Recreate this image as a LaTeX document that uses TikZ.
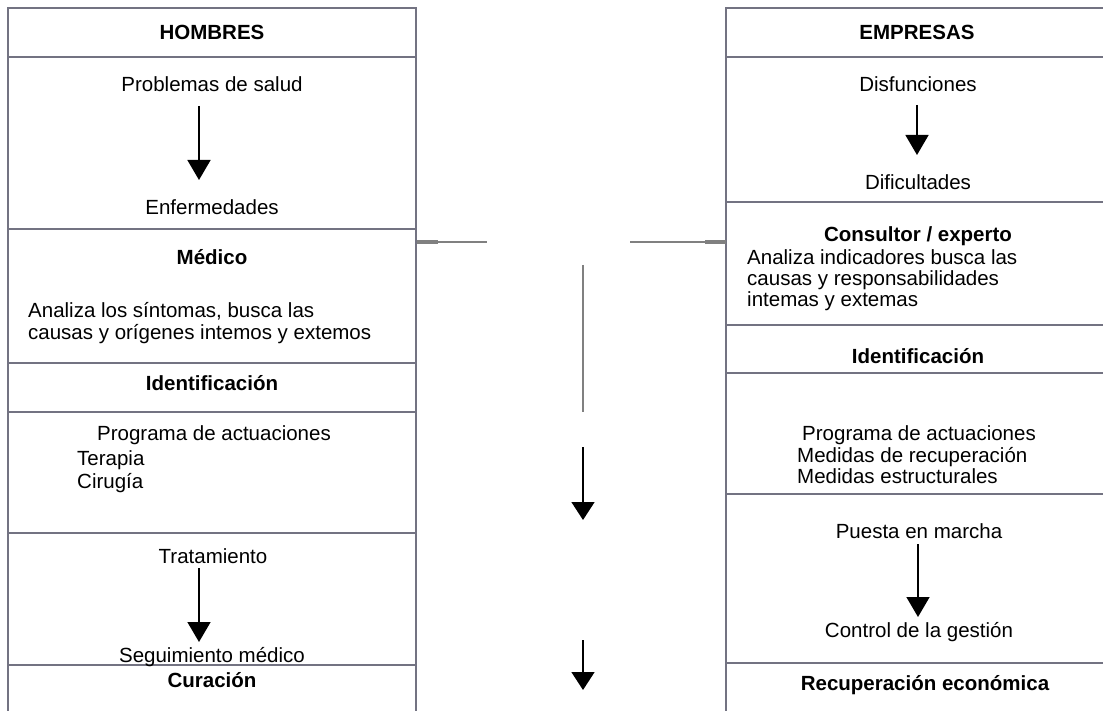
\documentclass[tikz,border=0pt]{standalone}
\usepackage{fontspec}
\setmainfont{Liberation Sans}
\usetikzlibrary{arrows.meta}
\definecolor{boxgray}{RGB}{115,115,130}
\definecolor{stubgray}{RGB}{128,128,128}
\newcommand\diagfs{\fontsize{20.5}{24}\selectfont}
\begin{document}
\begin{tikzpicture}[x=1pt,y=-1pt,
  boxline/.style={draw=boxgray,line width=1.5pt},
  txt/.style={inner sep=0pt,font=\diagfs,anchor=base},
  ltxt/.style={inner sep=0pt,font=\diagfs,anchor=base west},
  btxt/.style={inner sep=0pt,font=\diagfs\bfseries,anchor=base},
  flow/.style={-{Triangle[width=23pt,length=20pt]},line width=1.6pt,black},
  stub/.style={draw=stubgray,line width=1.3pt},
  stubthick/.style={draw=stubgray,line width=4pt}]
\useasboundingbox (0,0) rectangle (1103,711);

% ---------- left column (HOMBRES) ----------
\draw[boxline] (8,711) -- (8,8) -- (416,8) -- (416,711);
\foreach \yy in {57,229,363,412,533,665} \draw[boxline] (8,\yy) -- (416,\yy);

\node[btxt] (hom) at (212,39.5) {HOMBRES};
\node[txt] (prob) at (212,92) {Problemas de salud};
\node[txt] (enf) at (212,215) {Enfermedades};
\node[btxt] (med) at (212,265) {Médico};
\node[ltxt] (ana1) at (28,317) {Analiza los síntomas, busca las};
\node[ltxt] (ana2) at (28,340) {causas y orígenes intemos y extemos};
\node[btxt] (idl) at (212,390) {Identificación};
\node[ltxt] (progl) at (97,440) {Programa de actuaciones};
\node[ltxt] (ter) at (77,465) {Terapia};
\node[ltxt] (cir) at (77,488) {Cirugía};
\node[txt] (trat) at (213,563) {Tratamiento};
\node[txt] (seg) at (212,662) {Seguimiento médico};
\node[btxt] (cur) at (212,687) {Curación};

\draw[flow] ([xshift=-13pt,yshift=-14pt]prob.base) -- ([xshift=-13pt,yshift=35pt]enf.base);
\draw[flow] ([xshift=-14pt,yshift=-5pt]trat.base) -- ([xshift=-13pt,yshift=20pt]seg.base);

% ---------- right column (EMPRESAS) ----------
\draw[boxline] (726,711) -- (726,8) -- (1103,8);
\foreach \yy in {57,202,325,373,494,663} \draw[boxline] (726,\yy) -- (1103,\yy);

\node[btxt] (emp) at (917,39.5) {EMPRESAS};
\node[txt] (disf) at (918,92) {Disfunciones};
\node[txt] (dific) at (918,190) {Dificultades};
\node[btxt] (cons) at (918,242) {Consultor / experto};
\node[ltxt] (ind1) at (747,265) {Analiza indicadores busca las};
\node[ltxt] (ind2) at (747,286) {causas y responsabilidades};
\node[ltxt] (ind3) at (747,307) {intemas y extemas};
\node[btxt] (idr) at (918,363) {Identificación};
\node[ltxt] (progr) at (802,440) {Programa de actuaciones};
\node[ltxt] (medr) at (797,462) {Medidas de recuperación};
\node[ltxt] (mede) at (797,483) {Medidas estructurales};
\node[txt] (pues) at (919,538) {Puesta en marcha};
\node[txt] (ctrl) at (919,637) {Control de la gestión};
\node[btxt] (recu) at (925,690) {Recuperación económica};

\draw[flow] ([xshift=-1pt,yshift=-13pt]disf.base) -- ([xshift=-1pt,yshift=35pt]dific.base);
\draw[flow] ([xshift=-1pt,yshift=-6pt]pues.base) -- ([xshift=-1pt,yshift=20pt]ctrl.base);

% ---------- middle connectors ----------
\coordinate (ls1) at (417,242);
\coordinate (ls2) at (438,242);
\coordinate (ls3) at (487,242);
\coordinate (rs1) at (630,242);
\coordinate (rs2) at (705,242);
\coordinate (rs3) at (726,242);
\coordinate (v1) at (583,265);
\coordinate (v2) at (583,393);
\coordinate (v3) at (583,412);
\coordinate (a1) at (583,447);
\coordinate (a2) at (583,520);
\coordinate (b1) at (583,640);
\coordinate (b2) at (583,690);

\draw[stub] (ls1) -- (ls3);
\draw[stubthick] (ls1) -- (ls2);
\draw[stub] (rs1) -- (rs3);
\draw[stubthick] (rs2) -- (rs3);
\draw[stub] (v1) -- (v3);
\draw[draw=stubgray,line width=2.4pt] (v2) -- (v3);
\draw[-{Triangle[width=23pt,length=18pt]},line width=1.6pt] (a1) -- (a2);
\draw[-{Triangle[width=23pt,length=18pt]},line width=1.6pt] (b1) -- (b2);
\end{tikzpicture}
\end{document}
